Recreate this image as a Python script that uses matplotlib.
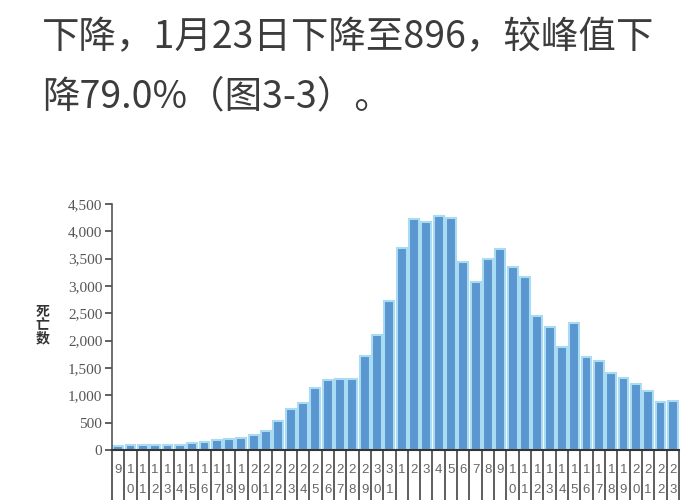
import matplotlib
matplotlib.use("Agg")
import matplotlib.pyplot as plt
import numpy as np

plt.rcParams['font.family'] = ['Noto Sans CJK SC', 'DejaVu Sans']

# 日期 12月9日 - 1月23日
days = list(range(9, 32)) + list(range(1, 24))
deaths = [80, 100, 100, 100, 100, 95, 120, 140, 180, 195, 225, 275, 340, 530,
          745, 865, 1140, 1285, 1295, 1295, 1725, 2110, 2730,
          3700, 4220, 4165, 4273, 4240, 3430, 3065, 3495, 3680, 3355, 3170,
          2445, 2245, 1885, 2315, 1705, 1625, 1410, 1325, 1210, 1075, 880, 896]
yticks = list(range(0, 4501, 500))

fig = plt.figure(figsize=(7, 5), dpi=100)

# 正文文字
fig.text(0.06, 0.924, "下降，1月23日下降至896，较峰值下", fontsize=27,
         color='#3c3c3c', va='center', ha='left', fontweight='light')
fig.text(0.06, 0.806, "降79.0%（图3-3）。", fontsize=27,
         color='#3c3c3c', va='center', ha='left', fontweight='light')

ax = fig.add_axes([0.16, 0.1, 0.81, 0.492])
x = np.arange(len(days))
ax.bar(x, deaths, width=0.8, color='#5a96cf', edgecolor='#a9dcf2', linewidth=1.5)

ax.set_xlim(-0.5, len(days) - 0.5)
ax.set_ylim(0, 4500)
ax.set_yticks(yticks)
ax.set_yticklabels([f"{v:,}" for v in yticks], family='Liberation Serif',
                   fontsize=11, color='#555555')
ax.tick_params(axis='y', direction='out', length=5, width=1.2, color='#444444', pad=2)
ax.set_xticks([])

for s in ['top', 'right']:
    ax.spines[s].set_visible(False)
ax.spines['left'].set_color('#555555')
ax.spines['left'].set_linewidth(1.2)
ax.spines['bottom'].set_color('#333333')
ax.spines['bottom'].set_linewidth(1.5)

# 纵轴标题（竖排）
fig.text(0.061, 0.35, "死\n亡\n数", fontsize=10, fontweight='bold', color='#333333',
         ha='center', va='center', linespacing=0.95)

# 横轴下方日期表格
trans = ax.get_xaxis_transform()
for b in np.arange(-0.5, len(days), 1.0):
    ax.plot([b, b], [0, -0.3], color='#333333', lw=1.1, transform=trans, clip_on=False)
for i, d in enumerate(days):
    s = str(d)
    for k, ch in enumerate(s):
        ax.text(i, -0.083 - 0.081 * k, ch, transform=trans, ha='center', va='center',
                fontsize=9.5, color='#666666', family='Liberation Sans')

fig.savefig("out.png", dpi=100, facecolor='white')
